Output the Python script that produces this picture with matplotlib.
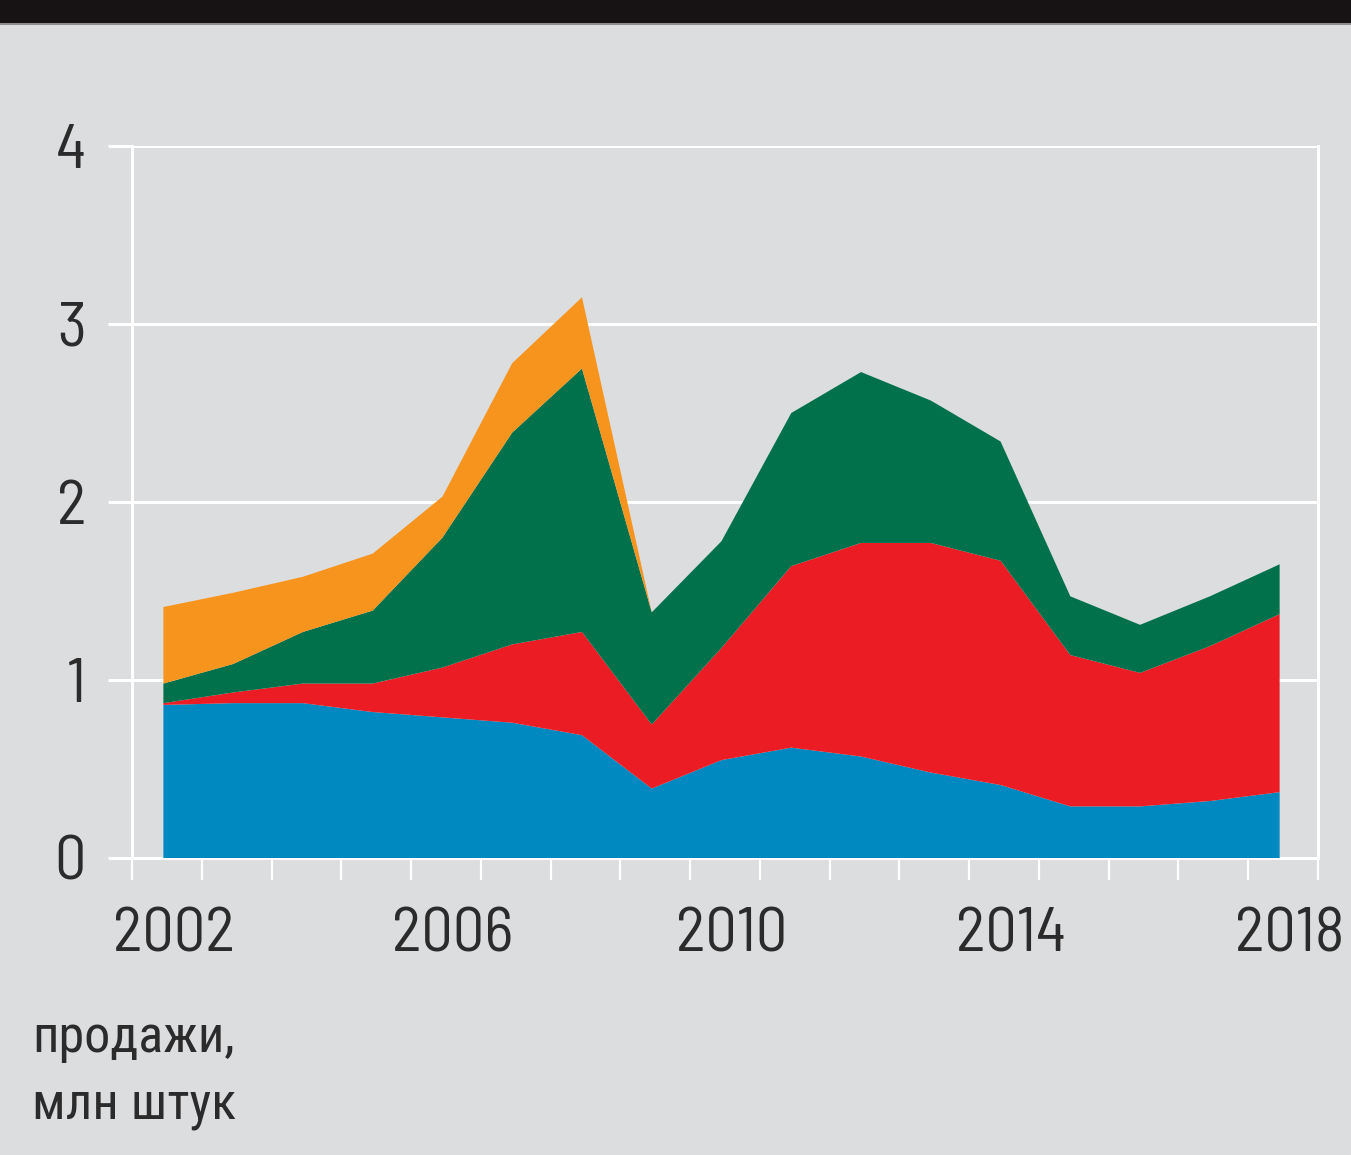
import numpy as np
import matplotlib
matplotlib.use("Agg")
import matplotlib.pyplot as plt
from matplotlib.patches import Rectangle

NUM_FONT = ['Barlow Semi Condensed', 'Roboto Condensed', 'DejaVu Sans']
CAP_FONT = ['Roboto Condensed', 'PT Sans Narrow', 'DejaVu Sans']
plt.rcParams['font.family'] = NUM_FONT

# продажи по годам, млн штук (слои снизу вверх)
years = np.arange(2002, 2019)
blue = [0.86, 0.87, 0.87, 0.82, 0.79, 0.76, 0.69, 0.39, 0.55, 0.62, 0.57, 0.48, 0.41, 0.29, 0.29, 0.32, 0.37]
red = [0.01, 0.06, 0.11, 0.16, 0.28, 0.44, 0.58, 0.36, 0.63, 1.02, 1.20, 1.29, 1.26, 0.85, 0.75, 0.87, 1.00]
green = [0.11, 0.16, 0.29, 0.41, 0.73, 1.19, 1.48, 0.63, 0.60, 0.86, 0.96, 0.80, 0.67, 0.33, 0.27, 0.28, 0.28]
orange = [0.43, 0.40, 0.31, 0.32, 0.23, 0.39, 0.40, 0, 0, 0, 0, 0, 0, 0, 0, 0, 0]

year_labels = [2002, 2006, 2010, 2014, 2018]
y_ticks = [0, 1, 2, 3, 4]
caption = ["продажи,", "млн штук"]

BG = "#dcdddf"
TXT = "#2b2b2b"
colors = ["#0089c0", "#ec1c24", "#00714b", "#f7941d"]

W, H = 1351, 1155
fig = plt.figure(figsize=(W / 100, H / 100), dpi=100, facecolor=BG)

# чёрная плашка сверху
fig.patches.append(Rectangle((0, 1 - 23 / H), 1, 23 / H, transform=fig.transFigure,
                             facecolor="#171314", edgecolor="none"))
fig.patches.append(Rectangle((0, 1 - 25 / H), 1, 2 / H, transform=fig.transFigure,
                             facecolor="#8c8c8c", edgecolor="none"))

ax = fig.add_axes([132 / W, (H - 858) / H, (1318 - 132) / W, (858 - 146) / H])
ax.set_facecolor(BG)
ax.set_axisbelow(True)

ax.stackplot(years, blue, red, green, orange, colors=colors, linewidth=0, zorder=3)

ax.set_xlim(2001.55, 2018.55)
ax.set_ylim(0, 4)

# подписи лет по центру годовых интервалов, засечки на границах лет
ax.set_xticks([y + 0.15 for y in year_labels])
ax.set_xticklabels([str(y) for y in year_labels])
ax.set_xticks(np.arange(2001.55, 2019, 1.0), minor=True)
ax.tick_params(axis='x', which='major', length=0, pad=36, labelsize=45, labelcolor=TXT)
ax.tick_params(axis='x', which='minor', length=16, width=1.6, color='white', direction='out')

ax.set_yticks(y_ticks)
ax.set_yticklabels([str(v) for v in y_ticks])
ax.tick_params(axis='y', which='major', length=17, width=2.2, color='white', direction='out',
               pad=16, labelsize=45, labelcolor=TXT)

ax.grid(axis='y', color='white', linewidth=2.2)

for side in ['left', 'right', 'bottom']:
    ax.spines[side].set_color('white')
    ax.spines[side].set_linewidth(2.2)
ax.spines['top'].set_visible(False)

fig.text(32 / W, (H - 1052) / H, caption[0], fontsize=37.5, color=TXT, va='baseline', ha='left',
         family=CAP_FONT)
fig.text(32 / W, (H - 1118) / H, caption[1], fontsize=37.5, color=TXT, va='baseline', ha='left',
         family=CAP_FONT)

fig.savefig("out.png", dpi=100, facecolor=BG)
